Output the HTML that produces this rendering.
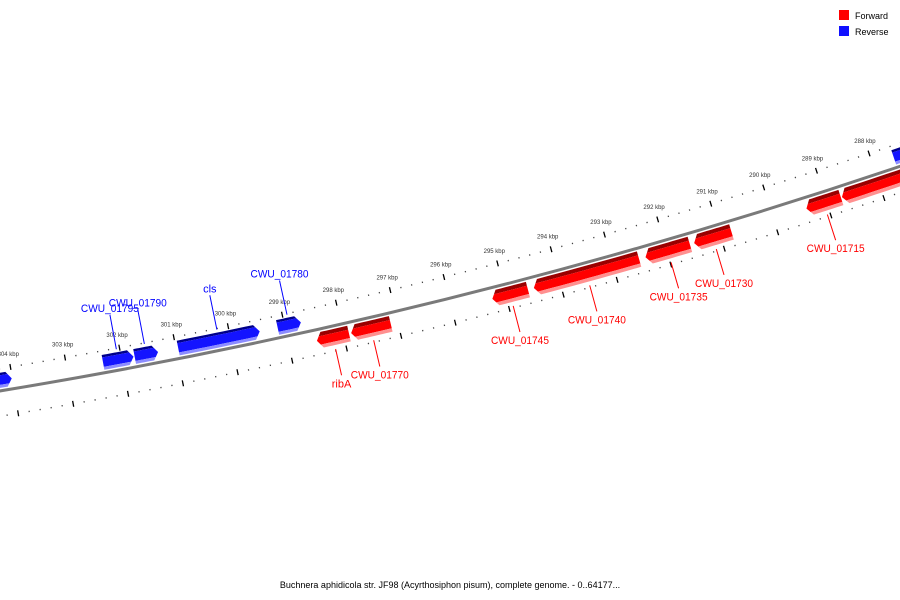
<!DOCTYPE html>
<html><head><meta charset="utf-8"><style>
html,body{margin:0;padding:0;background:#fff;}
svg{display:block;font-family:"Liberation Sans","DejaVu Sans",sans-serif;}
</style></head><body>
<svg id="map" width="900" height="600" viewBox="0 0 900 600" xmlns="http://www.w3.org/2000/svg">
<defs id="defs"></defs>
<g id="ticks"></g>
<circle id="backbone" fill="none" stroke="#7a7a7a" stroke-width="3"></circle>
<g id="genes"></g>
<g id="labels"></g>
<g>
<rect x="839" y="10" width="10" height="10" fill="#ff0000"/>
<text x="855" y="19" font-size="9" fill="#000">Forward</text>
<rect x="839" y="26" width="10" height="10" fill="#1010ff"/>
<text x="855" y="35" font-size="9" fill="#000">Reverse</text>
</g>
<text x="450" y="588" font-size="9" text-anchor="middle" fill="#000">Buchnera aphidicola str. JF98 (Acyrthosiphon pisum), complete genome. - 0..64177...</text>
</svg>
<script>
const geneNames = ["", "CWU_01795", "CWU_01790", "cls", "CWU_01780", "", "ribA", "CWU_01770", "CWU_01745", "CWU_01740", "CWU_01735", "CWU_01730", "CWU_01715", ""];
const geneStarts = [304010, 301780, 301330, 299460, 298700, 286000, 297900, 297130, 294590, 292520, 291570, 290790, 288730, 287000];
const geneEnds   = [305600, 302340, 301760, 300960, 299130, 287600, 298490, 297860, 295250, 294480, 292400, 291490, 289380, 288710];
const geneStrands = [-1, -1, -1, -1, -1, -1, 1, 1, 1, 1, 1, 1, 1, 1];
const tickKbpFrom = 284;
const tickKbpTo = 308;

const NS = "http://www.w3.org/2000/svg";
const G = 641770, CX = -920, CY = -5210;
const R_BACK = 5676, R_TICK_IN = 5654, R_TICK_OUT = 5701, R_TLABEL = 5641;
function pt(bp, r) { const f = bp / G * 2 * Math.PI; return [CX + r * Math.sin(f), CY - r * Math.cos(f)]; }
function mk(tag, attrs, parent) { const e = document.createElementNS(NS, tag); for (const k in attrs) e.setAttribute(k, attrs[k]); parent.appendChild(e); return e; }
function arcPts(s, e, r, n) { const out = []; for (let i = 0; i <= n; i++) out.push(pt(s + (e - s) * i / n, r)); return out; }
function poly(ptsArr) { return ptsArr.map(p => p[0].toFixed(2) + "," + p[1].toFixed(2)).join(" "); }

const bb = document.getElementById("backbone");
bb.setAttribute("cx", CX); bb.setAttribute("cy", CY); bb.setAttribute("r", R_BACK);

// ticks
const tg = document.getElementById("ticks");
for (let b = tickKbpFrom * 1000; b <= tickKbpTo * 1000; b += 200) {
  const major = b % 1000 === 0;
  [R_TICK_IN, R_TICK_OUT].forEach((r, ri) => {
    const h = major ? 3 : 0.7;
    const a = pt(b, r - h), c = pt(b, r + h);
    const l = mk("line", { x1: a[0], y1: a[1], x2: c[0], y2: c[1], stroke: major ? "#000" : "#444", "stroke-width": major ? 1.3 : 1.2 }, tg);
    
    
  });
  if (major) {
    const p = pt(b, R_TLABEL);
    const t = mk("text", { x: p[0], y: p[1] + 2, "font-size": 6, "text-anchor": "middle", fill: "#333" }, tg);
    t.textContent = (b / 1000) + " kbp";
    
    
  }
}

// genes
const gg = document.getElementById("genes");
const lg = document.getElementById("labels");
const defs = document.getElementById("defs");
const HEAD = 95;
geneStarts.forEach((s, i) => {
  const e = geneEnds[i], fwd = geneStrands[i] > 0;
  const r1 = fwd ? 5679 : 5658, r2 = fwd ? 5695 : 5673, rm = (r1 + r2) / 2;
  let shape;
  if (fwd) {
    shape = arcPts(s, e - HEAD, r1, 10).concat([pt(e, rm)]).concat(arcPts(e - HEAD, s, r2, 10));
  } else {
    shape = arcPts(s + HEAD, e, r1, 10).concat(arcPts(e, s + HEAD, r2, 10)).concat([pt(s, rm)]);
  }
  const cid = "clip" + i;
  const cp = mk("clipPath", { id: cid }, defs);
  mk("polygon", { points: poly(shape) }, cp);
  const grp = mk("g", { "clip-path": "url(#" + cid + ")" }, gg);
  
  
  const cols = fwd ? ["#9a0000", "#ff0000", "#ff9090"] : ["#00008a", "#1414ff", "#8c8cff"];
  const bands = fwd ? [[r1 - 1, r1 + 4], [r1 + 4, r2 - 3.5], [r2 - 3.5, r2 + 1]] : [[r1 - 1, r1 + 2.5], [r1 + 2.5, r2 - 3], [r2 - 3, r2 + 1]];
  bands.forEach((bd, k) => {
    const p = arcPts(s - 50, e + 50, bd[0], 12).concat(arcPts(e + 50, s - 50, bd[1], 12));
    mk("polygon", { points: poly(p), fill: cols[k] }, grp);
  });
  const name = geneNames[i];
  if (name) {
    const mid = (s + e) / 2;
    const col = fwd ? "#ff0000" : "#0000ff";
    const a = pt(mid, fwd ? 5699 : 5655), b = pt(mid, fwd ? 5726 : 5620);
    const ln = mk("line", { x1: a[0], y1: a[1], x2: b[0], y2: b[1], stroke: col, "stroke-width": 1 }, lg);
    
    
    const attrs = { x: b[0], y: fwd ? b[1] + 12 : b[1] - 3, "font-size": 11, "text-anchor": "middle", fill: col };
    if (name.length > 6) { attrs.textLength = 58; attrs.lengthAdjust = "spacingAndGlyphs"; }
    const t = mk("text", attrs, lg);
    t.textContent = name;
    
    
  }
});
</script>
</body></html>
